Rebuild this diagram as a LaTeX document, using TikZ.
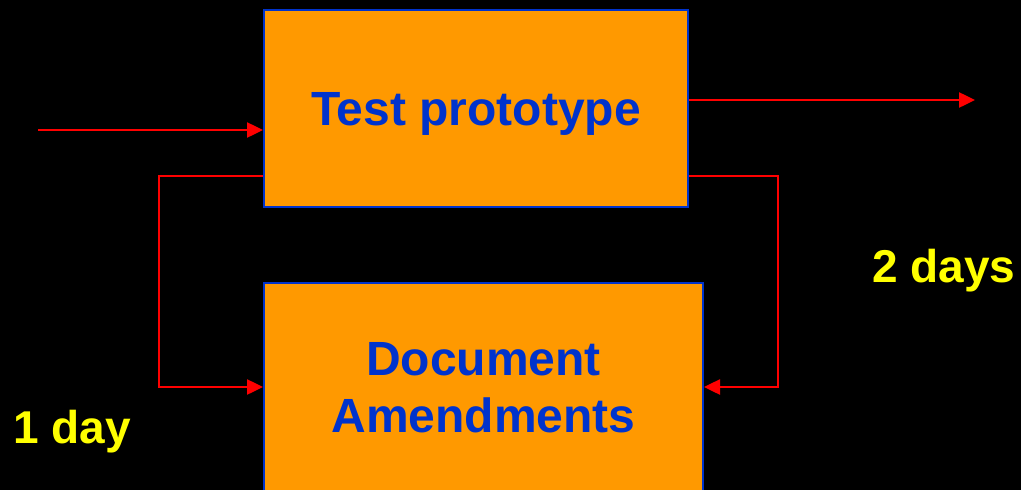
\documentclass[tikz,border=0pt]{standalone}
\usepackage{fontspec}
\setmainfont{Liberation Sans}
\usetikzlibrary{arrows.meta,positioning}
\definecolor{boxfill}{HTML}{FF9900}
\definecolor{boxline}{HTML}{0033CC}
\definecolor{flowred}{HTML}{FF0000}
\definecolor{daylabel}{HTML}{FFFF00}
\begin{document}
\begin{tikzpicture}[
    x=1pt,
    y=-1pt,
    stage/.style={
      draw=boxline,
      line width=2pt,
      fill=boxfill,
      text=boxline,
      align=center,
      inner sep=0,
      text depth=0pt,
      font=\bfseries\fontsize{48}{57}\selectfont,
    },
    flow/.style={
      line width=2.5pt,
      color=flowred,
      -{Triangle[length=16pt,width=15pt]},
    },
    duration/.style={
      text=daylabel,
      inner sep=0,
      anchor=base west,
      font=\bfseries\fontsize{46}{52}\selectfont,
    },
  ]
    \useasboundingbox (0,0) rectangle (1021,490);
    \fill[black] (0,0) rectangle (1021,490);
    \clip (0,0) rectangle (1021,490);

    \node[stage,minimum width=424,minimum height=197] (test) at (476,108.5)
      {Test prototype};
    \node[stage,minimum width=439,minimum height=208] (doc) at (483.5,387)
      {Document\\Amendments};

    \coordinate (in) at (38,130);
    \coordinate (out) at (975,100);
    \coordinate (backleft) at (159,176);
    \coordinate (backright) at (778,176);

    \draw[flow] (in) -- (in -| test.west);
    \draw[flow] (out -| test.east) -- (out);
    \draw[flow] (backleft -| test.west) -- (backleft) |- (doc.west);
    \draw[flow] (backright -| test.east) -- (backright) |- (doc.east);

    % durations
    \node[duration] (short) at (13,443) {1 day};
    \node[duration] (long) at (872,282) {2 days};
  \end{tikzpicture}
\end{document}
